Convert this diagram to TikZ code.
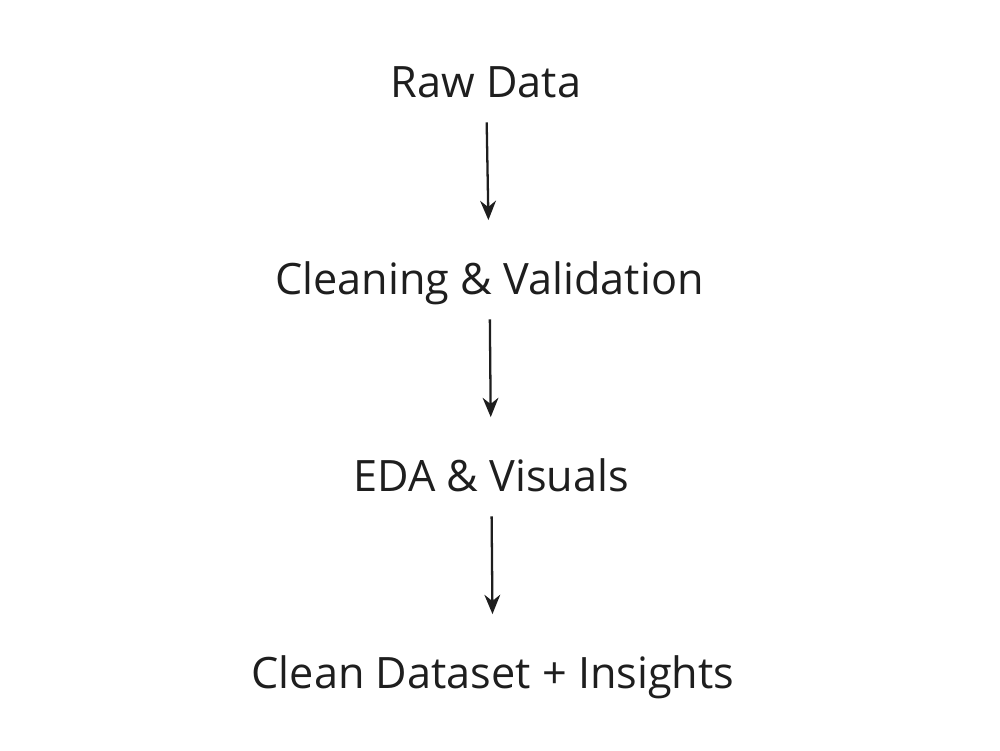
\documentclass[tikz,border=0pt]{standalone}
\usepackage{fontspec}
\setmainfont{Open Sans}
\usepackage{xcolor}
\usetikzlibrary{arrows.meta}
\definecolor{inkgray}{HTML}{1E1E1E}

\begin{document}
\begin{tikzpicture}[node distance = 1.97cm,
                    stage/.style = {text = inkgray, font = \fontsize{12.3}{14}\selectfont,
                                    text height = 1.6ex, text depth = .3ex},
                    flow/.style = {-{Stealth[length=5.5pt, width=4.5pt]}, draw = inkgray,
                                   line width = .65pt, shorten <= 2pt, shorten >= 9pt}]
                        \useasboundingbox (0,0) rectangle (10,7.5);
                        \node (raw) [stage] at (4.86,6.65) {Raw Data};
                        \node (clean) [stage, below of = raw, xshift = 1pt] {Cleaning \& Validation};
                        \node (eda) [stage, below of = clean, xshift = .5pt] {EDA \& Visuals};
                        \node (out) [stage, below of = eda, xshift = .5pt] {Clean Dataset + Insights};

                        \draw[flow] (raw) -- (clean);
                        \draw[flow] (clean) -- (eda);
                        \draw[flow] (eda) -- (out);
                    \end{tikzpicture}
\end{document}
